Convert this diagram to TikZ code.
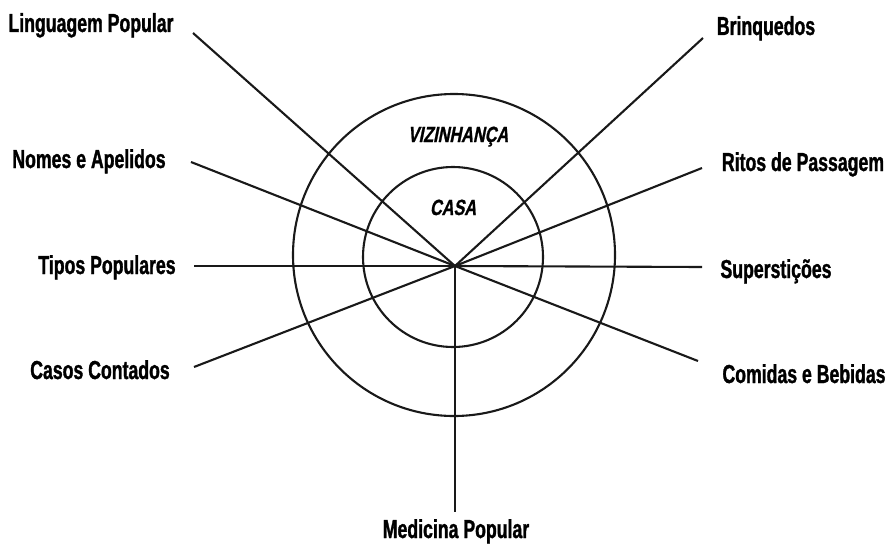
\documentclass[tikz,border=0pt]{standalone}
\usepackage{fontspec}
\newfontfamily\hand[FakeStretch=0.68,BoldFeatures={FakeBold=1.2}]{Liberation Sans}
\newfontfamily\handit[FakeStretch=0.74,FakeSlant=0.2,BoldFeatures={FakeBold=1}]{Liberation Sans}
\begin{document}
\begin{tikzpicture}[x=1pt,y=-1pt,
  spoke/.style={line width=2.1pt, black!90},
  ring/.style={circle, draw, line width=2.1pt, black!90, inner sep=0pt},
  lbl/.style={anchor=base, inner sep=0pt, font=\hand\bfseries\fontsize{26}{28}\selectfont},
  zone/.style={anchor=base, inner sep=0pt, font=\handit\bfseries\fontsize{22}{24}\selectfont}]
\useasboundingbox (0,0) rectangle (890,543);
\fill[white] (0,0) rectangle (890,543);
% rings
\node[ring, minimum size=322pt] (viz) at (454,255) {};
\node[ring, minimum size=180pt] (casa) at (453,257) {};
\node[zone] (tviz) at (458,142) {VIZINHANÇA};
\node[zone] (tcasa) at (453,215) {CASA};
% hub and spoke ends
\coordinate (hub) at (455,266);
\coordinate (eling) at (193,33);
\coordinate (ebrin) at (703,38);
\coordinate (enome) at (191,162);
\coordinate (eritos) at (702,168);
\coordinate (etipos) at (194,266);
\coordinate (esup) at (702,267);
\coordinate (ecasos) at (194,367);
\coordinate (ecom) at (698,361);
\coordinate (emed) at (455,512);
\foreach \e in {eling,ebrin,enome,eritos,etipos,esup,ecasos,ecom,emed}
  \draw[spoke] (hub) -- (\e);
% labels
\node[lbl] (ling) at (91,32) {Linguagem Popular};
\node[lbl] (brin) at (766,35) {Brinquedos};
\node[lbl] (nome) at (89,168) {Nomes e Apelidos};
\node[lbl] (ritos) at (803,171) {Ritos de Passagem};
\node[lbl] (tipos) at (107,274) {Tipos Populares};
\node[lbl] (sup) at (776,278) {Superstições};
\node[lbl] (casos) at (100,379) {Casos Contados};
\node[lbl] (com) at (804,383) {Comidas e Bebidas};
\node[lbl] (med) at (456,538) {Medicina Popular};
\end{tikzpicture}
\end{document}
